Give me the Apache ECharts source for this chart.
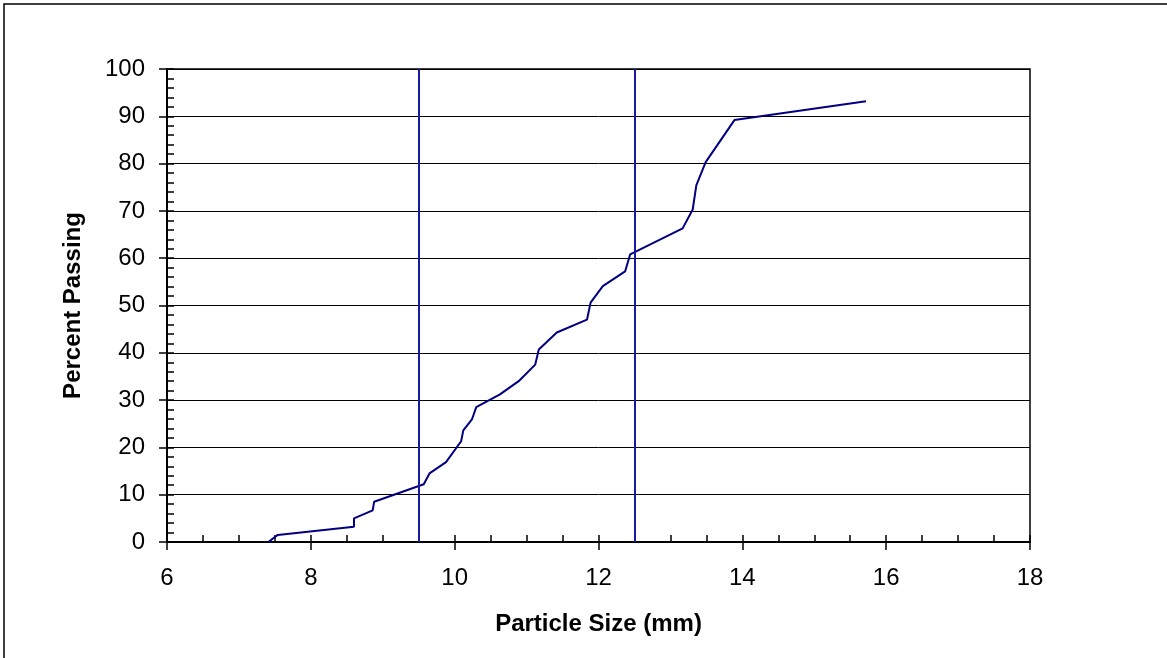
<!DOCTYPE html>
<html>
<head>
<meta charset="utf-8">
<script src="https://cdn.jsdelivr.net/npm/echarts@6/dist/echarts.min.js"></script>
<style>
  html, body { margin: 0; padding: 0; background: #fff; }
  #graph { width: 1167px; height: 658px; }
</style>
</head>
<body>
<div id="graph"></div>
<script>
// particle size (mm) vs percent passing
var sizes = [7.41, 7.54, 8.60, 8.60, 8.86, 8.88, 9.57, 9.65, 9.88, 10.09, 10.12, 10.24, 10.30,
             10.63, 10.89, 11.12, 11.17, 11.42, 11.84, 11.89, 12.06, 12.37, 12.44,
             13.17, 13.31, 13.36, 13.49, 13.89, 15.72];
var passing = [0, 1.5, 3.2, 5.0, 6.7, 8.5, 12.2, 14.5, 16.9, 21.3, 23.6, 25.9, 28.5,
               31.2, 34.0, 37.5, 40.7, 44.3, 47.0, 50.6, 54.1, 57.2, 60.8,
               66.3, 70.3, 75.4, 80.3, 89.2, 93.2];
// sieve sizes drawn as vertical lines
var sieveLines = [9.5, 12.5];

var xTicks = { min: 6, max: 18, step: 2 };
var yTicks = { min: 0, max: 100, step: 10 };

function run() {
    var chart = echarts.init(document.getElementById('graph'));

    var pts = sizes.map(function (s, i) { return [s, passing[i]]; });
    var font = 'Liberation Sans, Arial, sans-serif';

    var option = {
        backgroundColor: '#fff',
        animation: false,
        graphic: [{
            type: 'rect',
            shape: { x: 4, y: 4, width: 1200, height: 700 },
            style: { fill: 'none', stroke: '#000', lineWidth: 1.5 }
        }],
        grid: {
            left: 167, top: 69, right: 137, bottom: 116,
            show: true, borderColor: '#000', borderWidth: 1.5
        },
        xAxis: [{
            type: 'value',
            min: xTicks.min, max: xTicks.max, interval: xTicks.step,
            name: 'Particle Size (mm)',
            nameLocation: 'middle', nameGap: 70,
            nameTextStyle: { fontFamily: font, fontSize: 24, fontWeight: 'bold', color: '#000' },
            axisLine: { lineStyle: { color: '#000', width: 2 } },
            axisTick: { length: 8, lineStyle: { color: '#000', width: 1.5 } },
            axisLabel: { margin: 24, fontFamily: font, fontSize: 24, color: '#000' },
            splitLine: { show: false }
        }, {
            // minor ticks inside the plot
            type: 'value',
            position: 'bottom',
            min: xTicks.min, max: xTicks.max, interval: 0.5,
            axisLine: { show: false },
            axisTick: { inside: true, length: 7, lineStyle: { color: '#000', width: 1.5 } },
            axisLabel: { show: false },
            splitLine: { show: false }
        }],
        yAxis: [{
            type: 'value',
            min: yTicks.min, max: yTicks.max, interval: yTicks.step,
            name: 'Percent Passing',
            nameLocation: 'middle', nameGap: 82,
            nameTextStyle: { fontFamily: font, fontSize: 24, fontWeight: 'bold', color: '#000' },
            axisLine: { show: true, lineStyle: { color: '#000', width: 2 } },
            axisTick: { show: true, length: 8, lineStyle: { color: '#000', width: 1.5 } },
            axisLabel: { margin: 22, fontFamily: font, fontSize: 24, color: '#000' },
            splitLine: { lineStyle: { color: '#000', width: 1 } }
        }, {
            type: 'value',
            position: 'left',
            min: yTicks.min, max: yTicks.max, interval: 2,
            axisLine: { show: false },
            axisTick: { show: true, inside: true, length: 7, lineStyle: { color: '#000', width: 1.5 } },
            axisLabel: { show: false },
            splitLine: { show: false }
        }],
        series: [{
            type: 'line',
            data: pts,
            showSymbol: false,
            lineStyle: { color: '#000080', width: 2 },
            markLine: {
                silent: true,
                symbol: 'none',
                label: { show: false },
                lineStyle: { color: '#1a1aa0', width: 2, type: 'solid' },
                data: sieveLines.map(function (v) { return { xAxis: v }; })
            }
        }]
    };

    chart.setOption(option);
}

if (document.readyState !== 'loading') {
    run();
} else {
    document.addEventListener('DOMContentLoaded', run);
}
</script>
</body>
</html>
